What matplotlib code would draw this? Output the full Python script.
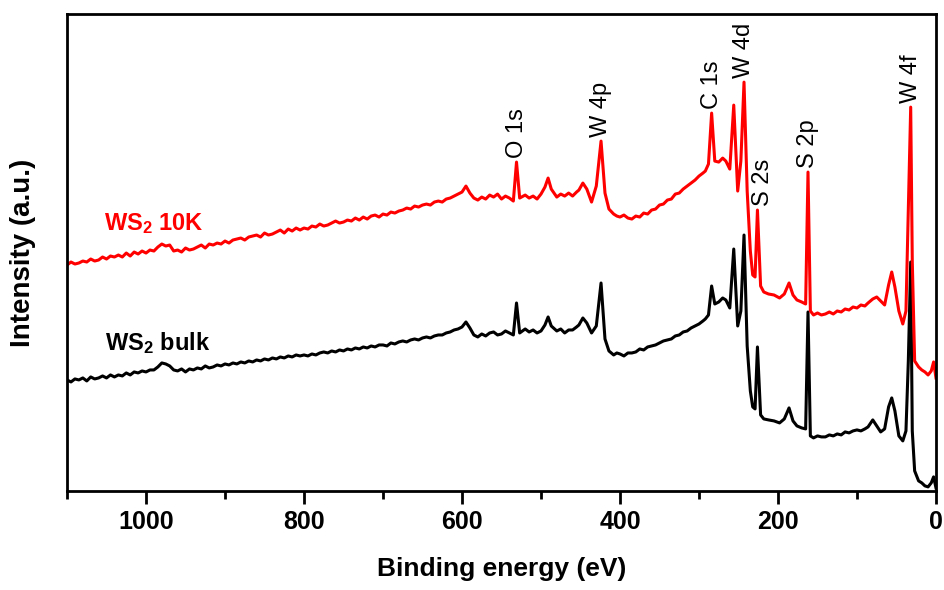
import matplotlib
matplotlib.use('Agg')
import matplotlib.pyplot as plt
from matplotlib.ticker import MultipleLocator

# XPS survey, binding energy (eV) and intensity (a.u.)
energy = [1100, 1095, 1090, 1085, 1080, 1075, 1070, 1065, 1060, 1055,
          1050, 1045, 1040, 1035, 1030, 1025, 1020, 1015, 1010, 1005,
          1000, 995, 990, 985, 980, 975, 970, 965, 960, 955,
          950, 945, 940, 935, 930, 925, 920, 915, 910, 905,
          900, 895, 890, 885, 880, 875, 870, 865, 860, 855,
          850, 845, 840, 835, 830, 825, 820, 815, 810, 805,
          800, 795, 790, 785, 780, 775, 770, 765, 760, 755,
          750, 745, 740, 735, 730, 725, 720, 715, 710, 705,
          700, 695, 690, 685, 680, 675, 670, 665, 660, 655,
          650, 645, 640, 635, 630, 625, 620, 615, 610, 605,
          # O 1s / W 4p region
          600, 595, 590, 585, 580, 575, 570, 565, 560, 555,
          550, 545, 540, 535, 531, 527, 520, 515, 510, 505,
          500, 495, 491, 487, 480, 475, 470, 465, 460, 455,
          452, 447, 442, 436, 430, 424, 419, 414, 408, 404,
          400, 395, 390, 385, 380, 375, 370, 365, 360, 355,
          350, 345, 340, 335, 330, 325, 320, 315, 310, 305, 300,
          # C 1s, W 4d, S 2s, S 2p
          295, 292, 288, 284, 280, 275, 270, 266, 261, 256,
          251, 247, 243, 239, 235, 232, 229, 226, 222, 218,
          212, 205, 198, 192, 186, 181, 176, 170, 165, 162, 159,
          # low energy, W 5p / W 4f
          155, 150, 145, 140, 135, 130, 125, 120, 115, 110,
          105, 100, 95, 90, 86, 80, 75, 70, 65, 60,
          56, 52, 47, 42, 38, 35, 32, 30, 27, 22,
          18, 14, 10, 6, 3, 0]

ws2_10k = [226, 229, 227, 228, 230, 229, 232, 230, 231, 234,
           232, 235, 234, 236, 234, 238, 235, 239, 237, 240,
           238, 241, 240, 244, 247, 245, 246, 240, 241, 239,
           243, 241, 242, 244, 246, 243, 247, 246, 248, 247,
           250, 248, 251, 252, 253, 251, 254, 255, 256, 254,
           258, 256, 257, 259, 261, 258, 262, 260, 263, 261,
           263, 262, 265, 264, 267, 265, 266, 268, 270, 268,
           269, 271, 270, 273, 271, 274, 272, 275, 276, 274,
           277, 276, 279, 278, 280, 281, 283, 282, 285, 284,
           286, 287, 286, 289, 290, 289, 292, 293, 295, 297,
           299, 305, 298, 293, 291, 294, 292, 296, 294, 297,
           292, 295, 293, 290, 329, 293, 296, 293, 295, 292,
           297, 304, 313, 302, 294, 297, 295, 298, 295, 299,
           301, 308, 302, 289, 305, 350, 298, 282, 277, 275,
           274, 276, 273, 272, 275, 274, 278, 277, 281, 282,
           286, 287, 291, 292, 297, 298, 302, 305, 308, 311, 315,
           318, 320, 327, 378, 330, 329, 333, 330, 322, 386,
           300, 330, 409, 300, 240, 216, 214, 281, 205, 199,
           197, 196, 193, 197, 208, 196, 191, 189, 187, 319, 180,
           176, 178, 176, 177, 179, 177, 180, 179, 182, 181,
           184, 183, 186, 185, 188, 192, 194, 190, 186, 206,
           219, 204, 180, 167, 180, 280, 384, 230, 130, 124,
           121, 119, 116, 120, 129, 113]

ws2_bulk = [111, 109, 112, 111, 113, 110, 114, 112, 113, 115,
            113, 116, 114, 116, 115, 118, 116, 119, 118, 120,
            119, 121, 121, 124, 128, 127, 125, 121, 120, 122,
            119, 122, 121, 123, 122, 125, 123, 124, 126, 125,
            127, 126, 128, 127, 129, 128, 130, 129, 131, 130,
            132, 131, 133, 132, 134, 133, 135, 134, 136, 135,
            136, 135, 137, 136, 138, 139, 138, 140, 139, 141,
            140, 142, 141, 143, 142, 144, 143, 145, 144, 146,
            146, 145, 148, 147, 149, 150, 149, 151, 152, 151,
            153, 154, 153, 155, 156, 156, 158, 159, 161, 162,
            164, 169, 163, 156, 154, 157, 155, 158, 159, 156,
            157, 160, 158, 156, 188, 158, 162, 159, 161, 158,
            160, 166, 174, 165, 160, 162, 158, 161, 161, 164,
            166, 173, 168, 158, 165, 208, 152, 140, 136, 138,
            137, 135, 138, 138, 139, 142, 141, 144, 145, 146,
            148, 150, 151, 152, 155, 156, 159, 160, 163, 165, 167,
            170, 172, 176, 205, 187, 189, 193, 191, 183, 242,
            165, 180, 256, 145, 100, 84, 82, 144, 76, 72,
            71, 70, 68, 72, 83, 70, 65, 63, 62, 179, 55,
            53, 55, 54, 54, 56, 55, 57, 56, 59, 58,
            60, 61, 60, 62, 64, 71, 65, 59, 62, 84,
            93, 80, 55, 50, 60, 130, 229, 60, 20, 10,
            8, 5, 4, 8, 14, 3]

peak_names = ['O 1s', 'W 4p', 'C 1s', 'W 4d', 'S 2s', 'S 2p', 'W 4f']
peak_energy = [531, 424, 284, 243, 226, 162, 32]

plt.rcParams['font.family'] = ['Liberation Sans', 'DejaVu Sans']
plt.rcParams['mathtext.fontset'] = 'custom'
plt.rcParams['mathtext.rm'] = 'Liberation Sans'
plt.rcParams['mathtext.bf'] = 'Liberation Sans:bold'

fig = plt.figure(figsize=(9.44, 5.9), dpi=100)
ax = fig.add_axes([0.071, 0.168, 0.9205, 0.808])

ax.plot(energy, ws2_bulk, color='black', lw=2.2)
ax.plot(energy, ws2_10k, color='red', lw=2.2)

# peak labels sit just above the red curve
for name, e in zip(peak_names, peak_energy):
    top = ws2_10k[energy.index(e)]
    dx = 4 if name == 'S 2s' else 0
    ax.annotate(name, xy=(e, top), xytext=(dx, 3), textcoords='offset points',
                rotation=90, ha='center', va='bottom', fontsize=17)

ax.text(1053, 261, r'WS$\mathbf{_2}$ 10K', color='red', fontsize=17, fontweight='bold')
ax.text(1052, 141, r'WS$\mathbf{_2}$ bulk', color='black', fontsize=17, fontweight='bold')

ax.set_xlim(1100, 0)
ax.set_ylim(0, 477)
ax.set_yticks([])
ax.xaxis.set_major_locator(MultipleLocator(200))
ax.xaxis.set_minor_locator(MultipleLocator(100))
ax.tick_params(axis='x', which='major', direction='out', length=9, width=2,
               labelsize=18, pad=5)
ax.tick_params(axis='x', which='minor', direction='out', length=6, width=2)
for lab in ax.get_xticklabels():
    lab.set_fontweight('bold')
for s in ax.spines.values():
    s.set_linewidth(2)

ax.set_xlabel('Binding energy (eV)', fontsize=19, fontweight='bold', labelpad=16)
ax.set_ylabel('Intensity (a.u.)', fontsize=20, fontweight='bold', labelpad=22)

fig.savefig('out.png', dpi=100)
